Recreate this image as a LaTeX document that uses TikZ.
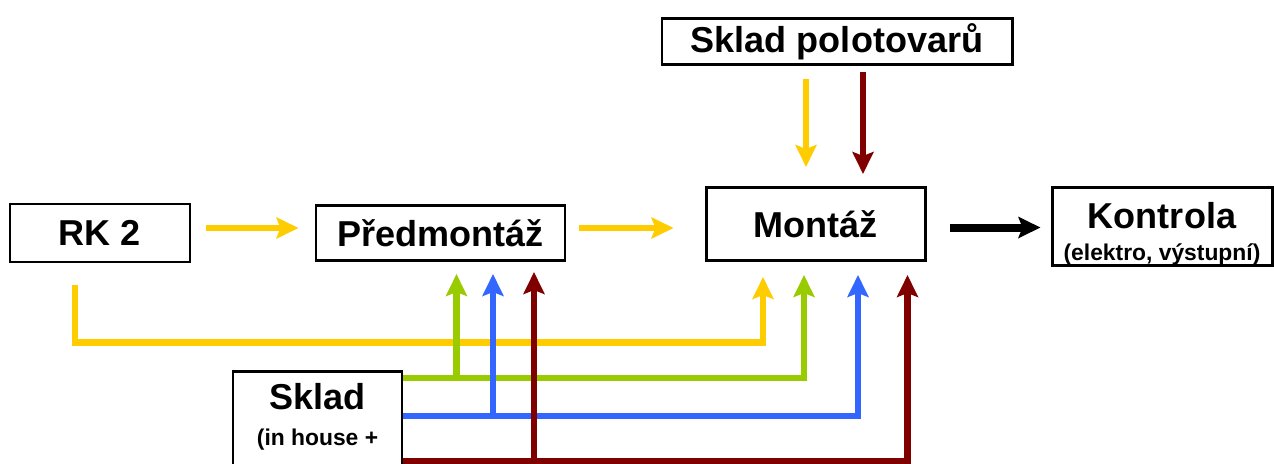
\documentclass[tikz,border=0pt]{standalone}
\usepackage{fontspec}
\setmainfont{Liberation Sans}
\usepackage{xcolor}
\usepackage{tikz}
\usetikzlibrary{arrows.meta,positioning}
\definecolor{flowyellow}{HTML}{FFCC00}
\definecolor{flowgreen}{HTML}{99CC00}
\definecolor{flowblue}{HTML}{3366FF}
\definecolor{flowred}{HTML}{800000}
\newcommand{\boxfont}{\fontsize{20.5}{24}\selectfont\bfseries}
\newcommand{\notefont}{\fontsize{13}{15}\selectfont\bfseries}
\tikzstyle{block} = [draw, rectangle, line width=1.7pt, inner sep=0, font=\boxfont]
\tikzstyle{flow} = [line width=0.13cm, -{Stealth[length=0.44cm,width=0.42cm,inset=0.08cm]}]
\tikzstyle{yflow} = [flow, color=flowyellow]
\tikzstyle{gflow} = [flow, color=flowgreen]
\tikzstyle{bflow} = [flow, color=flowblue]
\tikzstyle{rflow} = [flow, color=flowred]
\tikzstyle{kflow} = [flow, line width=0.16cm, color=black]

\begin{document}
\begin{tikzpicture}[auto, node distance=2cm]
	  \useasboundingbox (0,0) rectangle (25.48,-9.26);
	  \node [block, minimum width=3.6cm, minimum height=1.16cm] (rk) at (2.0,-4.66) {RK 2};
	  \node [block, right of=rk, node distance=6.81cm, minimum width=4.98cm, minimum height=1.1cm] (pre) {Předmontáž};
	  \node [block, right of=pre, node distance=7.5cm, yshift=0.18cm, minimum width=4.38cm, minimum height=1.46cm] (mont) {Montáž};
	  \node [block, right of=mont, node distance=6.93cm, yshift=-0.05cm, minimum width=4.4cm, minimum height=1.56cm, align=center] (kon) {\rule{0pt}{0.82cm}Kontrola\\[-5.9pt]{\notefont (elektro, výstupní)}};
	  \node [block, above of=mont, node distance=3.65cm, xshift=0.43cm, minimum width=7cm, minimum height=0.92cm] (polo) {Sklad polotovarů};
	  \node [block, anchor=north, minimum width=3.38cm, minimum height=3cm] (sklad) at (6.35,-7.4) {};
	  \node [anchor=north, align=center, inner sep=0, font=\boxfont] (skladtxt) at ([yshift=-0.26cm]sklad.north) {Sklad\\[-3.7pt]{\notefont (in house +}};
	
	  % main line
	  \draw [yflow, shorten <=0.3cm, shorten >=0.32cm] ([yshift=0.1cm]rk.east) -- ([yshift=0.1cm]rk.east -| pre.west);
	  \draw [yflow, shorten <=0.26cm, shorten >=0.62cm] ([yshift=0.1cm]pre.east) -- ([yshift=0.1cm]pre.east -| mont.west);
	  \draw [kflow, shorten <=0.46cm, shorten >=0.2cm] ([yshift=-0.07cm]mont.east) -- ([yshift=-0.07cm]mont.east -| kon.west);
	
	  % from the semi-finished store
	  \draw [yflow, shorten <=0.26cm, shorten >=0.38cm] ([xshift=-0.62cm]polo.south) -- ([xshift=-0.62cm]polo.south |- mont.north);
	  \draw [rflow, shorten <=0.12cm, shorten >=0.24cm] ([xshift=0.52cm]polo.south) -- ([xshift=0.52cm]polo.south |- mont.north);
	
	  % RK 2 straight to assembly
	  \draw [yflow, shorten <=0.42cm, shorten >=0.3cm] ([xshift=-0.5cm]rk.south) -- ++(0,-1.58) -| ([xshift=-1.05cm]mont.south);
	
	  % store buses
	  \coordinate (gbus) at ([yshift=-0.16cm]sklad.north east);
	  \coordinate (bbus) at ([yshift=-0.92cm]sklad.north east);
	  \coordinate (rbus) at ([yshift=-1.82cm]sklad.north east);
	  \draw [gflow, shorten >=0.26cm] (gbus) -| ([xshift=-0.23cm]mont.south);
	  \draw [bflow, shorten >=0.26cm] (bbus) -| ([xshift=0.85cm]mont.south);
	  \draw [rflow, shorten >=0.26cm] (rbus) -| ([xshift=1.84cm]mont.south);
	  \draw [gflow, shorten >=0.24cm] ([xshift=0.32cm]pre.south |- gbus) -- ([xshift=0.32cm]pre.south);
	  \draw [bflow, shorten >=0.24cm] ([xshift=1.05cm]pre.south |- bbus) -- ([xshift=1.05cm]pre.south);
	  \draw [rflow, shorten >=0.2cm] ([xshift=1.87cm]pre.south |- rbus) -- ([xshift=1.87cm]pre.south);
	\end{tikzpicture}
\end{document}
